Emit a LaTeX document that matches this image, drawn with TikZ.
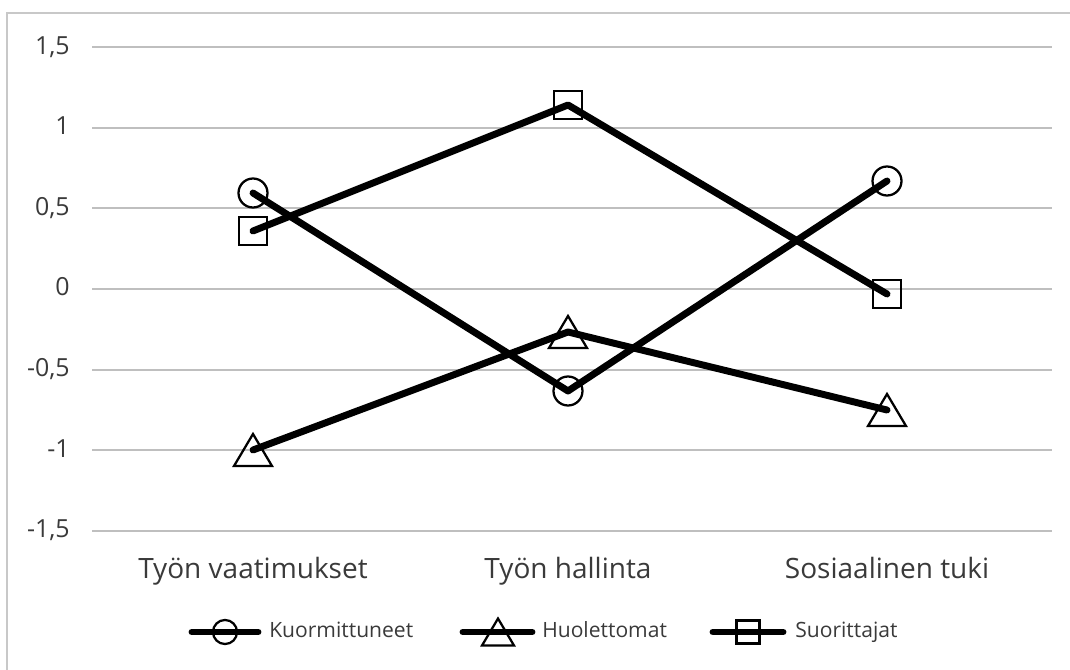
\documentclass[tikz,border=0pt]{standalone}
\usepackage{fontspec}
\setmainfont{Open Sans}
\usepackage{tikz}
\definecolor{gridgray}{RGB}{191,191,191}
\definecolor{framegray}{RGB}{200,200,200}
\definecolor{labelgray}{RGB}{58,58,58}

\begin{document}
\begin{tikzpicture}[x=0.75pt, y=-0.75pt,
                    gridline/.style={draw=gridgray, line width=1.5pt},
                    series/.style={draw=black, line width=5.2pt, line cap=round, line join=round},
                    mk/.style={draw=black, line width=1.7pt},
                    ticklabel/.style={anchor=base east, text=labelgray, inner sep=0pt, font=\fontsize{18.7}{22}\selectfont},
                    catlabel/.style={anchor=base, text=labelgray, inner sep=0pt, font=\fontsize{21}{25}\selectfont},
                    legendlabel/.style={anchor=base west, text=labelgray, inner sep=0pt, font=\fontsize{15.8}{19}\selectfont},
                    circ/.pic={\draw[mk] (0,0) circle (14.5);},
                    sq/.pic={\draw[mk] (-14,-14) rectangle (14,14);},
                    tri/.pic={\draw[mk] (0,-16) -- (19,16) -- (-19,16) -- cycle;}]
    \useasboundingbox (0,0) rectangle (1070,670);
    % Frame
    \draw[draw=framegray, line width=1.5pt] (7,670) -- (7,13) -- (1070,13);
    % Gridlines and axis labels
    \foreach \v/\lab [count=\i] in {1.5/{1,5}, 1/1, 0.5/{0,5}, 0/0, -0.5/{-0,5}, -1/-1, -1.5/{-1,5}} {
        \draw[gridline] (92,289-161.3*\v) -- (1052,289-161.3*\v);
        \node[ticklabel] (tick\i) at (70,296-161.3*\v) {\lab};
    }
    % Categories
    \node[catlabel] (vaatimukset) at (253,578) {Työn vaatimukset};
    \node[catlabel] (hallinta) at (568,578) {Työn hallinta};
    \node[catlabel] (tuki) at (887,578) {Sosiaalinen tuki};
    % Data points
    \coordinate (k1) at (253,193);
    \coordinate (k2) at (568,391);
    \coordinate (k3) at (887,181);
    \coordinate (h1) at (253,450);
    \coordinate (h2) at (568,332);
    \coordinate (h3) at (887,410);
    \coordinate (s1) at (253,231);
    \coordinate (s2) at (568,105);
    \coordinate (s3) at (887,294);
    % Series
    \draw[series] (k1) -- (k2) -- (k3);
    \draw[series] (h1) -- (h2) -- (h3);
    \draw[series] (s1) -- (s2) -- (s3);
    \foreach \p in {1,2,3} {
        \pic at (k\p) {circ};
        \pic at (h\p) {tri};
        \pic at (s\p) {sq};
    }
    % Legend
    \coordinate (lk-a) at (192,632);
    \coordinate (lk) at (225,632);
    \coordinate (lk-b) at (258,632);
    \draw[series] (lk-a) -- (lk-b);
    \pic[scale=0.83] at (lk) {circ};
    \node[legendlabel] (lk-text) at (269,637) {Kuormittuneet};
    \coordinate (lh-a) at (463,632);
    \coordinate (lh) at (498,632);
    \coordinate (lh-b) at (532,632);
    \draw[series] (lh-a) -- (lh-b);
    \pic[scale=0.84] at (lh) {tri};
    \node[legendlabel] (lh-text) at (542,637) {Huolettomat};
    \coordinate (ls-a) at (713,632);
    \coordinate (ls) at (748,632);
    \coordinate (ls-b) at (783,632);
    \draw[series] (ls-a) -- (ls-b);
    \pic[scale=0.82] at (ls) {sq};
    \node[legendlabel] (ls-text) at (795,637) {Suorittajat};
\end{tikzpicture}
\end{document}
